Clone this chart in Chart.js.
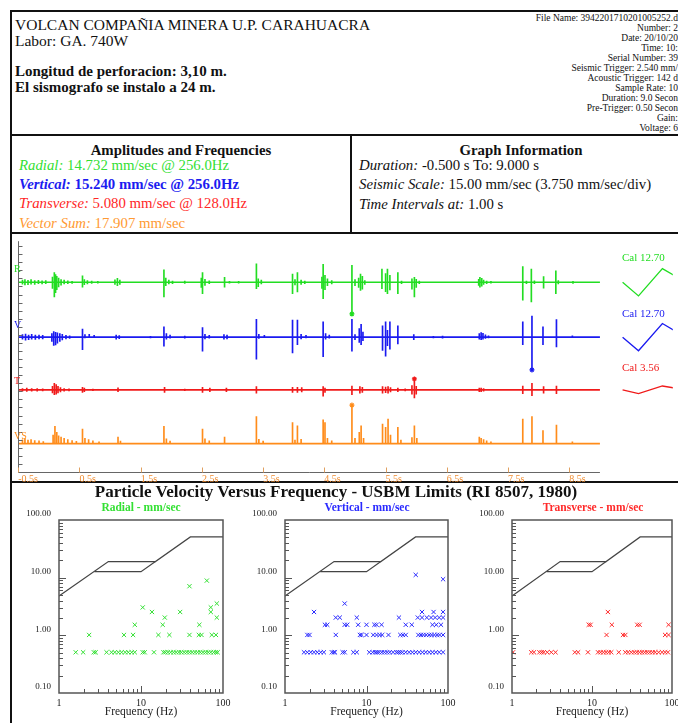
<!DOCTYPE html>
<html lang="es">
<head>
<meta charset="utf-8">
<title>Registro sismográfico - Carahuacra</title>
<script src="https://cdn.jsdelivr.net/npm/chart.js@4.4.1/dist/chart.umd.min.js"></script>
<style>
  html, body { margin: 0; padding: 0; background: #fff; }
  body { position: relative; width: 678px; height: 723px; overflow: hidden;
         font-family: "Liberation Serif", "Times New Roman", serif; color: #111; }
  .t { position: absolute; white-space: nowrap; line-height: 1; }
  .rule { position: absolute; background: #111; }
  canvas { position: absolute; }
  i { font-style: italic; }
</style>
</head>
<body>
<!-- report frame -->
<div class="rule" style="left:10px;top:10px;width:2px;height:713px"></div>
<div class="rule" style="left:10px;top:10px;width:668px;height:2px"></div>
<div class="rule" style="left:10px;top:134px;width:668px;height:2px"></div>
<div class="rule" style="left:10px;top:232px;width:668px;height:2px"></div>
<div class="rule" style="left:10px;top:481px;width:668px;height:2px"></div>
<div class="rule" style="left:350px;top:134px;width:2px;height:100px"></div>

<!-- header -->
<div class="t" style="left:15px;top:17px;font-size:15.5px">VOLCAN COMPAÑIA MINERA U.P. CARAHUACRA</div>
<div class="t" style="left:15px;top:33px;font-size:15.5px">Labor: GA. 740W</div>
<div class="t" style="left:15px;top:64px;font-size:15px;font-weight:bold">Longitud de perforacion: 3,10 m.</div>
<div class="t" style="left:15px;top:80px;font-size:15px;font-weight:bold">El sismografo se instalo a 24 m.</div>
<div class="t" style="right:0;top:13px;font-size:9.5px;line-height:10px;text-align:right">
File Name: 3942201710201005252.d<br>Number: 2<br>Date: 20/10/20<br>Time: 10:<br>Serial Number: 39<br>Seismic Trigger: 2.540 mm/<br>Acoustic Trigger: 142 d<br>Sample Rate: 10<br>Duration: 9.0 Secon<br>Pre-Trigger: 0.50 Secon<br>Gain:<br>Voltage: 6
</div>

<!-- amplitudes / graph information -->
<div class="t" style="left:12px;width:338px;text-align:center;top:143px;font-size:14.8px;font-weight:bold">Amplitudes and Frequencies</div>
<div class="t" style="left:19px;top:158px;font-size:14.8px;color:#33e033"><i>Radial:</i> 14.732 mm/sec @ 256.0Hz</div>
<div class="t" style="left:19px;top:177px;font-size:14.8px;color:#1c1cf0;font-weight:bold"><i>Vertical:</i> 15.240 mm/sec @ 256.0Hz</div>
<div class="t" style="left:19px;top:196px;font-size:14.8px;color:#ff2626"><i>Transverse:</i> 5.080 mm/sec @ 128.0Hz</div>
<div class="t" style="left:19px;top:216px;font-size:14.8px;color:#ff9a33"><i>Vector Sum:</i> 17.907 mm/sec</div>
<div class="t" style="left:352px;width:338px;text-align:center;top:143px;font-size:14.8px;font-weight:bold">Graph Information</div>
<div class="t" style="left:359px;top:158px;font-size:14.8px"><i>Duration:</i> -0.500 s To: 9.000 s</div>
<div class="t" style="left:359px;top:177px;font-size:14.8px"><i>Seismic Scale:</i> 15.00 mm/sec (3.750 mm/sec/div)</div>
<div class="t" style="left:359px;top:197px;font-size:14.8px"><i>Time Intervals at:</i> 1.00 s</div>

<!-- waveform record -->
<canvas id="trace" width="665" height="247" style="left:13px;top:236px"></canvas>
<div class="t" style="left:14px;top:264px;font-size:10px;color:#22dd22">R</div>
<div class="t" style="left:14px;top:320px;font-size:10px;color:#1a1af0">V</div>
<div class="t" style="left:14px;top:376px;font-size:10px;color:#f01a1a">T</div>
<div class="t" style="left:14px;top:431px;font-size:10px;color:#ff8c1a">VS</div>
<div class="t" style="left:622px;top:252px;font-size:11px;color:#22dd22">Cal 12.70</div>
<div class="t" style="left:622px;top:308px;font-size:11px;color:#1a1af0">Cal 12.70</div>
<div class="t" style="left:622px;top:362px;font-size:11px;color:#f01a1a">Cal 3.56</div>

<!-- particle velocity vs frequency -->
<div class="t" style="left:0;width:672px;text-align:center;top:483px;font-size:17px;font-weight:bold">Particle Velocity Versus Frequency - USBM Limits (RI 8507, 1980)</div>
<div class="t" style="left:41px;width:200px;text-align:center;top:502px;font-size:11.5px;font-weight:bold;color:#33e033">Radial - mm/sec</div>
<div class="t" style="left:267px;width:200px;text-align:center;top:502px;font-size:11.5px;font-weight:bold;color:#2a2aff">Vertical - mm/sec</div>
<div class="t" style="left:493px;width:200px;text-align:center;top:502px;font-size:11.5px;font-weight:bold;color:#ff2a2a">Transverse - mm/sec</div>
<canvas id="pvRadial" width="216" height="211" style="left:19px;top:508px"></canvas>
<canvas id="pvVertical" width="215" height="211" style="left:245px;top:508px"></canvas>
<canvas id="pvTransverse" width="212" height="211" style="left:472px;top:508px"></canvas>

<script>
Chart.defaults.font.family = '"Liberation Serif", "Times New Roman", serif';
Chart.defaults.animation = false;
Chart.defaults.responsive = false;
Chart.defaults.devicePixelRatio = 1;
Chart.defaults.plugins.legend.display = false;
Chart.defaults.plugins.tooltip.enabled = false;

// ---------------- waveform record ----------------
const RECORD_START = -0.5;       // s
const RECORD_END = 9.0;          // s
const TRACE_XMAX = 10.19;        // axis runs past the record to hold the calibration pulses
const TRACE_YMAX = 107.3;        // mm/sec, stacked channels
const MM_PER_DIV = 3.75;
const timeTicks = [-0.5, 0.5, 1.5, 2.5, 3.5, 4.5, 5.5, 6.5, 7.5, 8.5];
const channelOffset = { R: 88.2, V: 62.7, T: 38.2, VS: 13.2 };

const GREEN = '#22dd22', BLUE = '#1a1af0', RED = '#f01a1a', ORANGE = '#ff8c1a';

// [time s, excursion above baseline, excursion below baseline] in mm/sec
const radialSpikes = [
  [-0.43,1.0,0.9],[-0.39,1.3,1.2],[-0.34,0.9,1.1],[-0.29,1.2,0.9],[-0.23,0.8,1.0],[-0.17,0.9,0.7],[-0.11,0.7,0.8],[-0.05,0.8,0.6],
  [0.06,2.4,2.8],[0.09,4.5,6.8],[0.11,3.6,4.8],[0.13,2.8,3.4],[0.16,1.9,2.2],[0.20,1.3,1.3],[0.25,1.0,0.8],[0.31,0.7,0.7],[0.38,0.5,0.5],
  [0.55,3.0,2.3],[0.58,1.3,1.1],[0.63,0.8,0.8],[0.70,0.6,0.5],[0.80,0.4,0.4],
  [1.08,1.1,1.0],[1.12,1.8,1.6],[1.16,1.0,1.0],
  [1.88,5.8,6.8],[1.91,1.9,1.6],[1.96,1.0,0.8],[2.02,0.6,0.6],[2.22,0.6,0.5],
  [2.49,2.0,2.4],[2.51,4.5,5.3],[2.55,1.4,1.4],[2.62,0.7,0.6],
  [2.87,2.3,2.3],[2.95,0.5,0.4],[3.10,0.4,0.4],
  [3.39,8.6,3.0],[3.42,1.6,2.0],[3.47,1.0,0.8],
  [3.98,3.8,5.3],[4.02,1.2,1.2],[4.06,4.5,4.5],[4.12,1.0,1.0],[4.18,0.6,0.6],
  [4.46,2.4,2.8],[4.48,8.3,7.6],[4.51,3.2,3.4],[4.55,1.6,1.6],[4.62,0.8,0.8],
  [4.95,7.9,14.732],[5.00,1.2,1.6],[5.06,1.9,2.4],[5.09,3.8,3.8],[5.12,2.8,3.2],[5.16,0.8,1.0],
  [5.44,6.1,3.0],[5.50,4.0,4.4],[5.53,6.1,5.3],[5.57,3.2,3.6],[5.70,4.5,5.3],[5.76,0.6,0.6],
  [5.93,1.6,3.2],[5.97,2.3,6.8],[6.00,1.4,2.4],[6.05,0.6,0.6],
  [7.02,1.4,1.4],[7.04,2.3,2.3],[7.07,1.8,1.8],[7.10,1.0,1.0],[7.15,0.6,0.6],[7.22,0.4,0.4],
  [7.74,7.3,8.3],[7.80,0.6,0.6],[7.88,6.1,9.1],[7.93,0.7,0.7],[8.08,2.7,2.7],[8.28,5.3,5.3],[8.32,0.8,0.8],[8.56,0.5,0.5]
];
const verticalSpikes = [
  [-0.43,1.2,1.0],[-0.38,1.4,1.4],[-0.33,1.0,1.2],[-0.28,1.3,1.0],[-0.22,0.9,1.1],[-0.16,1.0,0.8],[-0.10,0.8,0.8],
  [0.05,1.6,2.0],[0.08,2.6,3.8],[0.11,2.2,3.6],[0.14,2.0,2.8],[0.18,1.6,2.0],[0.22,1.3,1.3],[0.28,0.8,0.8],[0.34,0.6,0.6],
  [0.55,3.8,5.8],[0.59,1.2,0.4],[0.66,1.3,0.3],[0.74,0.8,0.3],
  [1.10,0.9,0.9],[1.15,0.7,0.7],[1.66,0.4,0.4],
  [1.88,4.8,4.2],[1.92,1.6,1.0],[1.98,1.0,0.5],[2.22,0.5,0.5],
  [2.51,4.4,6.5],[2.55,1.3,0.8],[2.62,0.8,0.5],
  [2.86,1.2,1.0],[2.91,1.0,0.8],
  [3.39,8.3,10.3],[3.43,1.3,0.6],[3.52,0.8,0.3],
  [3.98,7.9,7.3],[4.06,7.9,3.5],[4.12,1.3,0.8],[4.20,0.8,0.4],
  [4.48,7.1,9.1],[4.52,1.6,1.0],[4.58,1.0,0.5],
  [4.95,8.3,6.5],[5.00,1.2,1.2],[5.07,4.0,2.4],[5.10,5.9,3.5],[5.13,2.4,1.6],
  [5.45,5.3,6.2],[5.50,7.1,8.8],[5.53,3.2,4.0],[5.57,7.1,5.6],[5.70,5.3,3.2],[5.96,1.2,1.2],
  [6.28,0.4,0.4],[6.43,0.5,0.5],
  [7.03,1.6,1.0],[7.06,2.1,1.2],[7.09,1.8,1.0],[7.13,1.1,0.6],[7.18,0.6,0.4],
  [7.74,7.1,3.5],[7.89,9.8,15.24],[8.07,4.8,3.5],[8.29,8.2,4.5],[8.55,0.6,0.3]
];
const transverseSpikes = [
  [-0.43,0.6,0.6],[-0.36,0.8,0.7],[-0.28,0.6,0.6],[-0.19,0.6,0.6],[-0.10,0.5,0.5],
  [0.06,1.6,1.4],[0.09,3.0,2.3],[0.12,2.4,2.0],[0.15,1.6,1.4],[0.19,1.0,1.0],[0.25,0.6,0.6],[0.33,0.5,0.5],
  [0.55,1.2,1.2],[0.58,0.8,0.8],[0.72,0.4,0.4],
  [1.13,0.9,0.9],[1.89,1.2,1.2],[2.22,0.4,0.4],[2.51,1.2,1.2],[2.63,0.8,0.8],[2.90,0.8,0.8],
  [3.39,1.5,1.5],[3.98,1.2,1.2],[4.06,1.2,1.2],[4.13,1.0,1.0],
  [4.48,1.5,3.0],[4.51,0.8,1.2],
  [4.95,1.8,2.3],[5.08,1.5,1.5],[5.12,1.2,1.2],
  [5.45,1.5,1.5],[5.50,1.3,1.3],[5.54,1.5,1.5],[5.58,1.0,1.0],[5.70,0.8,0.8],[5.82,0.5,0.5],
  [5.93,2.0,2.0],[5.97,5.08,3.8],[6.00,1.6,2.0],
  [7.03,0.8,0.8],[7.06,0.8,0.8],[7.10,0.6,0.6],
  [7.74,1.8,1.8],[7.89,3.0,2.7],[8.08,1.5,1.5],[8.29,1.8,1.8]
];
// vector sum is never negative: [time s, magnitude mm/sec]
const vectorSumSpikes = [
  [-0.43,1.8],[-0.39,2.3],[-0.34,1.6],[-0.29,1.9],[-0.23,1.4],[-0.16,1.3],[-0.09,1.0],
  [0.07,4.0],[0.10,8.0],[0.13,5.2],[0.16,3.6],[0.20,3.0],[0.25,2.4],[0.31,1.9],[0.38,1.4],[0.45,1.1],
  [0.55,6.8],[0.59,2.4],[0.65,1.9],[0.72,1.3],[0.82,0.8],
  [1.13,3.0],[1.17,1.2],
  [1.88,8.0],[1.92,2.2],[1.98,1.2],
  [2.51,6.8],[2.55,2.2],[2.62,1.3],
  [2.87,3.0],
  [3.39,12.6],[3.43,2.0],[3.50,1.2],
  [3.98,9.8],[4.02,1.6],[4.06,8.3],[4.12,2.0],
  [4.48,11.1],[4.51,9.8],[4.55,2.4],[4.62,1.3],
  [4.95,17.907],[5.00,2.4],[5.07,5.3],[5.10,8.3],[5.14,2.4],
  [5.45,9.1],[5.50,7.6],[5.54,11.4],[5.58,4.0],[5.70,7.6],[5.75,1.6],
  [5.93,2.8],[5.97,8.3],[6.01,2.4],
  [7.03,3.0],[7.06,2.4],[7.10,1.9],[7.15,1.3],[7.22,0.8],
  [7.74,11.4],[7.89,12.6],[8.07,6.1],[8.29,8.6],[8.55,0.8]
];

// peak of each channel (signed, mm/sec)
const peakChannels = ['R', 'V', 'T', 'VS'];
const peakTimes = [4.95, 7.89, 5.97, 4.95];
const peakValues = [-14.732, -15.240, 5.080, 17.907];

// calibration pulses drawn after the record
const calTimes = [9.37, 9.63, 10.02, 10.40];
const calRadial = [0, -6.35, 6.35, 0];
const calVertical = [0, -6.35, 6.35, 0];
const calTransverse = [0, -1.78, 1.78, 0];

function spikeBars(spikes, offset, color) {
  return {
    type: 'bar', grouped: false, barThickness: 1, borderWidth: 0, backgroundColor: color,
    data: spikes.map(s => ({ x: s[0], y: [offset - (s[2] || 0), offset + s[1]] }))
  };
}
function baseline(offset, color) {
  return {
    type: 'line', borderColor: color, borderWidth: 1.6, pointRadius: 0,
    data: [{ x: RECORD_START, y: offset }, { x: RECORD_END, y: offset }]
  };
}
function calPulse(values, offset, color) {
  return {
    type: 'line', borderColor: color, borderWidth: 1.3, pointRadius: 0, tension: 0,
    data: calTimes.map((t, i) => ({ x: t, y: offset + values[i] }))
  };
}
const chColor = { R: GREEN, V: BLUE, T: RED, VS: ORANGE };

const traceAxes = {
  id: 'traceAxes',
  afterDatasetsDraw(chart) {
    const { ctx, chartArea: a, scales: { x, y } } = chart;
    const x0 = Math.round(x.getPixelForValue(RECORD_START)) + 0.5;
    const x1 = x.getPixelForValue(RECORD_END);
    const yb = Math.round(y.getPixelForValue(0)) + 0.5;
    ctx.save();
    ctx.lineWidth = 1;
    ctx.strokeStyle = '#666';
    ctx.beginPath();
    ctx.moveTo(x0, a.top); ctx.lineTo(x0, yb);
    ctx.moveTo(x0, yb); ctx.lineTo(x1, yb);
    for (let v = 0; v <= TRACE_YMAX; v += MM_PER_DIV) {
      const py = Math.round(y.getPixelForValue(v)) + 0.5;
      ctx.moveTo(x0, py); ctx.lineTo(x0 + 4, py);
    }
    ctx.stroke();
    ctx.strokeStyle = '#e0a060';
    ctx.beginPath();
    timeTicks.forEach(t => {
      const px = Math.round(x.getPixelForValue(t)) + 0.5;
      ctx.moveTo(px, yb); ctx.lineTo(px, yb - 5);
    });
    ctx.stroke();
    ctx.restore();
  }
};

new Chart(document.getElementById('trace'), {
  type: 'bar',
  data: {
    datasets: [
      baseline(channelOffset.R, GREEN), spikeBars(radialSpikes, channelOffset.R, GREEN),
      baseline(channelOffset.V, BLUE), spikeBars(verticalSpikes, channelOffset.V, BLUE),
      baseline(channelOffset.T, RED), spikeBars(transverseSpikes, channelOffset.T, RED),
      baseline(channelOffset.VS, ORANGE), spikeBars(vectorSumSpikes, channelOffset.VS, ORANGE),
      calPulse(calRadial, channelOffset.R, GREEN),
      calPulse(calVertical, channelOffset.V, BLUE),
      calPulse(calTransverse, channelOffset.T, RED),
      {
        type: 'line', showLine: false, pointStyle: 'star', pointRadius: 2.5, borderWidth: 1.2,
        data: peakTimes.map((t, i) => ({ x: t, y: channelOffset[peakChannels[i]] + peakValues[i] })),
        pointBorderColor: peakChannels.map(c => chColor[c]),
        pointBackgroundColor: peakChannels.map(c => chColor[c])
      }
    ]
  },
  options: {
    layout: { padding: 0 },
    scales: {
      x: {
        type: 'linear', min: RECORD_START, max: TRACE_XMAX, offset: false,
        afterBuildTicks: s => { s.ticks = timeTicks.map(v => ({ value: v })); },
        afterFit: s => { s.height = 11; s.paddingLeft = 0; s.paddingRight = 0; },
        grid: { display: false, drawTicks: false }, border: { display: false },
        ticks: { align: 'start', padding: 1, color: '#f08c30', font: { size: 10 },
                 maxRotation: 0, autoSkip: false, callback: v => v + 's' }
      },
      y: { display: false, min: 0, max: TRACE_YMAX }
    }
  },
  plugins: [traceAxes]
});

// ---------------- particle velocity vs frequency ----------------
// USBM RI 8507 limit curves (Hz, mm/sec)
const usbmUpper = [[1, 4.8], [4, 19.05], [15, 19.05], [40, 50.8], [100, 50.8]];
const usbmLower = [[2.7, 12.7], [10, 12.7], [15, 19.05]];

// zero-crossing frequency (Hz) and velocity (mm/sec) of each half cycle
const radialPoints = [
  [1.6,0.508],[1.97,0.508],[2.66,0.508],[2.8,0.508],[3.8,0.508],[4.37,0.508],[4.8,0.508],[5.3,0.508],[5.8,0.508],[6.4,0.508],
  [7.0,0.508],[7.7,0.508],[8.4,0.508],[10.5,0.508],[11.1,0.508],[14.4,0.508],[18.8,0.508],[19.8,0.508],[21.3,0.508],[23,0.508],
  [24.9,0.508],[26.8,0.508],[29,0.508],[31,0.508],[33.6,0.508],[36.2,0.508],[39,0.508],[42,0.508],[45.5,0.508],[49,0.508],
  [52.8,0.508],[57,0.508],[61.4,0.508],[66,0.508],[71,0.508],[77,0.508],[82,0.508],[86,0.508],
  [2.33,1.016],[6.2,1.016],[8.0,1.016],[16.3,1.016],[22.2,1.016],[39,1.016],[50.8,1.016],[54.7,1.016],[73,1.016],[82,1.016],
  [8.4,1.524],[18.4,1.524],[51.5,1.524],
  [19.5,2.032],[84,2.032],
  [13.6,2.54],[30,2.54],[71,2.54],
  [10.5,3.05],[71,3.05],[84,3.56],
  [39,7.11],[63.5,8.89]
];
const verticalPoints = [
  [1.71,0.508],[1.88,0.508],[2.07,0.508],[2.27,0.508],[2.49,0.508],[2.74,0.508],[3.0,0.508],[3.76,0.508],[3.98,0.508],[4.1,0.508],
  [5.1,0.508],[5.4,0.508],[6.9,0.508],[7.6,0.508],[10.8,0.508],[11.9,0.508],[12.8,0.508],[13.5,0.508],[14.3,0.508],[15.4,0.508],
  [16.6,0.508],[17.9,0.508],[19.3,0.508],[21.2,0.508],[23.3,0.508],[24.6,0.508],[26,0.508],[27.6,0.508],[30.3,0.508],[33.3,0.508],
  [36.6,0.508],[40.2,0.508],[44.2,0.508],[48.6,0.508],[53.4,0.508],[58.7,0.508],[64.5,0.508],[70.9,0.508],[77.9,0.508],[87,0.508],
  [1.88,1.016],[2.0,1.016],[4.2,1.016],[8.3,1.016],[8.7,1.016],[10,1.016],[12.1,1.016],[13.3,1.016],[14.5,1.016],[15.6,1.016],
  [18.6,1.016],[26,1.016],[28,1.016],[30.3,1.016],[43.3,1.016],[46.6,1.016],[50,1.016],[54,1.016],[58.7,1.016],[63,1.016],
  [68,1.016],[73.7,1.016],[79,1.016],[87,1.016],
  [3.09,1.524],[3.3,1.524],[5.4,1.524],[5.8,1.524],[7.9,1.524],[10,1.524],[12.5,1.524],[13.3,1.524],[15.3,1.524],[30.3,1.524],
  [35.9,1.524],[64.5,1.524],[71.8,1.524],[82,1.524],
  [4.2,2.032],[4.7,2.032],[7.6,2.032],[25,2.032],[42.6,2.032],[48,2.032],[55,2.032],[62,2.032],[69.5,2.032],[77.9,2.032],[87,2.032],
  [2.27,2.54],[48,2.54],[66.5,2.54],[87,2.54],
  [5.4,3.56],[40.2,11.18],[87,9.4]
];
const transversePoints = [
  [1.03,0.508],[1.74,0.508],[1.88,0.508],[2.2,0.508],[2.35,0.508],[2.5,0.508],[2.76,0.508],[3.1,0.508],[3.5,0.508],[6.1,0.508],
  [6.7,0.508],[8.9,0.508],[11.9,0.508],[12.8,0.508],[13.9,0.508],[15,0.508],[16.2,0.508],[17.4,0.508],[21.6,0.508],[26.1,0.508],
  [28.2,0.508],[31,0.508],[33.6,0.508],[36.3,0.508],[39.2,0.508],[42.2,0.508],[45.5,0.508],[49,0.508],[52.8,0.508],[57.2,0.508],
  [61.7,0.508],[68,0.508],[75,0.508],[82,0.508],[89,0.508],
  [15.2,1.016],[24.4,1.016],[26.1,1.016],[82,1.016],[90.6,1.016],
  [9.1,1.524],[9.6,1.524],[17.7,1.524],[36.8,1.524],[39.4,1.524],[90.6,1.524],
  [15.8,2.54]
];
const velocityTicks = [0.1, 1, 10, 100];
const frequencyTicks = [1, 10, 100];

const logFrame = {
  id: 'logFrame',
  afterDatasetsDraw(chart) {
    const { ctx, chartArea: a, scales: { x, y } } = chart;
    ctx.save();
    ctx.strokeStyle = '#555';
    ctx.lineWidth = 1;
    ctx.beginPath();
    [0.1, 1, 10].forEach(dec => {
      for (let k = 1; k <= 9; k++) {
        if (dec === 0.1 && k === 1) continue;
        const py = Math.round(y.getPixelForValue(k * dec)) + 0.5;
        const len = k === 1 ? 7 : 4;
        ctx.moveTo(a.left, py); ctx.lineTo(a.left + len, py);
      }
    });
    [1, 10].forEach(dec => {
      for (let k = 1; k <= 9; k++) {
        if (dec === 1 && k === 1) continue;
        const px = Math.round(x.getPixelForValue(k * dec)) + 0.5;
        const len = k === 1 ? 7 : 4;
        ctx.moveTo(px, a.bottom); ctx.lineTo(px, a.bottom - len);
      }
    });
    ctx.stroke();
    ctx.lineWidth = 1.5;
    ctx.strokeRect(a.left, a.top, a.right - a.left, a.bottom - a.top);
    ctx.restore();
  }
};

function velocityChart(id, points, color) {
  return new Chart(document.getElementById(id), {
    type: 'scatter',
    data: {
      datasets: [
        { type: 'line', data: usbmUpper.map(p => ({ x: p[0], y: p[1] })), borderColor: '#444', borderWidth: 1.2, pointRadius: 0, tension: 0 },
        { type: 'line', data: usbmLower.map(p => ({ x: p[0], y: p[1] })), borderColor: '#444', borderWidth: 1.2, pointRadius: 0, tension: 0 },
        { data: points.map(p => ({ x: p[0], y: p[1] })), pointStyle: 'crossRot', pointRadius: 3,
          borderColor: color, backgroundColor: color, borderWidth: 1 }
      ]
    },
    options: {
      layout: { padding: { top: 12, right: 12, left: 0, bottom: 0 } },
      scales: {
        x: {
          type: 'logarithmic', min: 1, max: 100,
          afterBuildTicks: s => { s.ticks = frequencyTicks.map(v => ({ value: v })); },
          afterFit: s => { s.height = 26; s.paddingLeft = 0; s.paddingRight = 0; },
          grid: { display: false, drawTicks: false }, border: { display: false },
          ticks: { padding: 4, color: '#222', font: { size: 10 }, maxRotation: 0, autoSkip: false,
                   callback: v => String(v) },
          title: { display: true, text: 'Frequency (Hz)', color: '#222', font: { size: 11.5 }, padding: 0 }
        },
        y: {
          type: 'logarithmic', min: 0.1, max: 100,
          afterBuildTicks: s => { s.ticks = velocityTicks.map(v => ({ value: v })); },
          afterFit: s => { s.width = 40; s.paddingTop = 0; s.paddingBottom = 0; },
          grid: { display: false, drawTicks: false }, border: { display: false },
          ticks: { padding: 8, labelOffset: -6, color: '#222', font: { size: 9 }, autoSkip: false,
                   callback: v => Number(v).toFixed(2) }
        }
      }
    },
    plugins: [logFrame]
  });
}
velocityChart('pvRadial', radialPoints, '#33e033');
velocityChart('pvVertical', verticalPoints, '#2a2aff');
velocityChart('pvTransverse', transversePoints, '#ff2a2a');
</script>
</body>
</html>
